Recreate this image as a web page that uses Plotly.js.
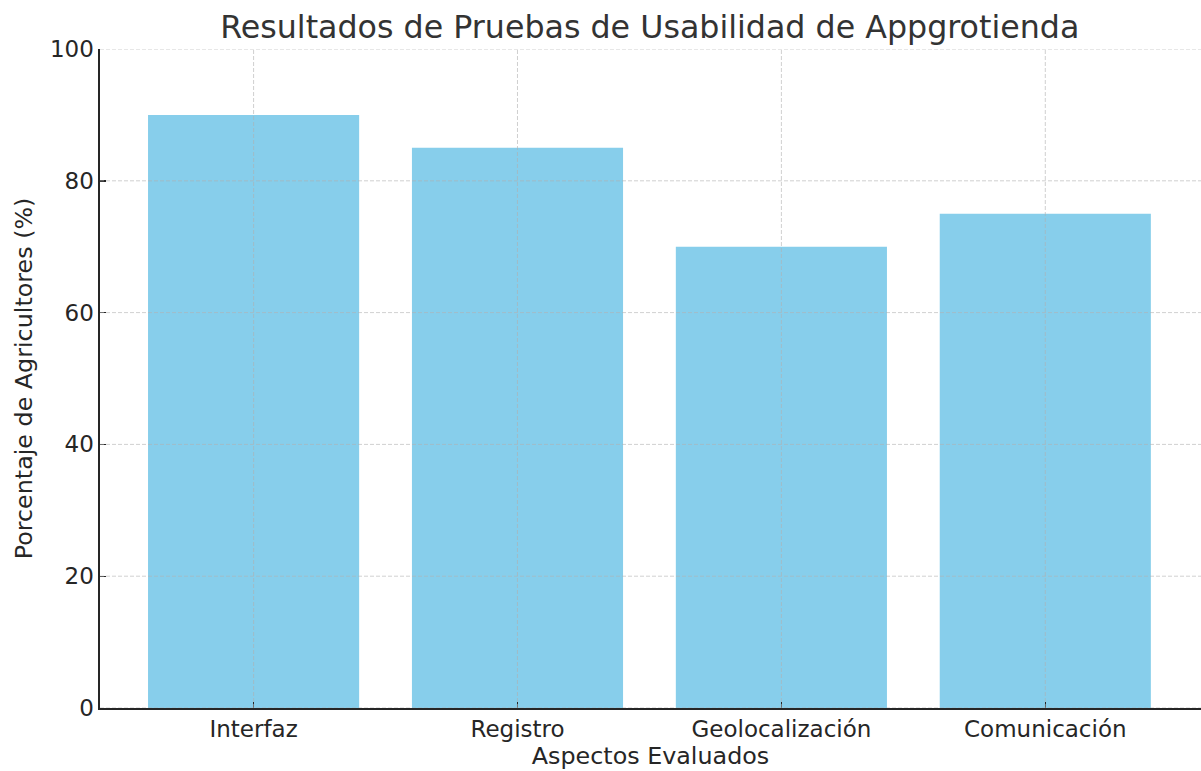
<!DOCTYPE html>
<html>
<head>
<meta charset="utf-8">
<script src="https://cdn.plot.ly/plotly-3.0.1.min.js"></script>
<style>html,body{margin:0;padding:0;background:#fff;}#chart{width:1201px;height:771px;}</style>
</head>
<body>
<div id="chart"></div>
<script>
const categories = ["Interfaz", "Registro", "Geolocalización", "Comunicación"];
const values = [90, 85, 70, 75];
const yTicks = [0, 20, 40, 60, 80, 100];

const xIdx = categories.map((_, i) => i);
const FONT = "DejaVu Sans, sans-serif";

const gridStyle = {color: "rgba(176,176,176,0.6)", width: 1, dash: "4px,2px"};
const shapes = [];
yTicks.forEach(v => shapes.push({type: "line", layer: "above", xref: "paper", x0: 0, x1: 1, yref: "y", y0: v, y1: v, line: gridStyle}));
xIdx.forEach(i => shapes.push({type: "line", layer: "above", xref: "x", x0: i, x1: i, yref: "paper", y0: 0, y1: 1, line: gridStyle}));

const trace = {
  type: "bar",
  x: xIdx,
  y: values,
  width: 0.8,
  marker: {color: "#87CEEB", line: {width: 0}},
  hoverinfo: "skip"
};

const layout = {
  width: 1201, height: 771,
  margin: {l: 100, r: 0, t: 49, b: 63},
  paper_bgcolor: "#fff", plot_bgcolor: "#fff",
  font: {family: FONT, color: "#262626", size: 23},
  title: {text: "Resultados de Pruebas de Usabilidad de Appgrotienda", font: {size: 31.7, color: "#333333", family: FONT}, x: 0.541, xanchor: "center", y: 0.965, yanchor: "middle"},
  showlegend: false,
  xaxis: {
    range: [-0.582, 3.59],
    tickmode: "array", tickvals: xIdx, ticktext: categories,
    showgrid: false, zeroline: false,
    showline: true, linecolor: "#262626", linewidth: 1.6,
    ticks: "inside", ticklen: 6, tickwidth: 1.4, tickcolor: "#262626",
    tickfont: {size: 23, color: "#262626"},
    title: {text: "Aspectos Evaluados", font: {size: 23.8, color: "#262626"}, standoff: 4},
    fixedrange: true
  },
  yaxis: {
    range: [0, 100],
    tickmode: "array", tickvals: yTicks,
    showgrid: false, zeroline: false,
    showline: true, linecolor: "#262626", linewidth: 1.6,
    ticks: "inside", ticklen: 6, tickwidth: 1.4, tickcolor: "#262626",
    tickfont: {size: 23, color: "#262626"},
    title: {text: "Porcentaje de Agricultores (%)", font: {size: 23.8, color: "#262626"}, standoff: 10},
    fixedrange: true
  },
  shapes: shapes
};

Plotly.newPlot("chart", [trace], layout, {displayModeBar: false, staticPlot: true});
</script>
</body>
</html>
